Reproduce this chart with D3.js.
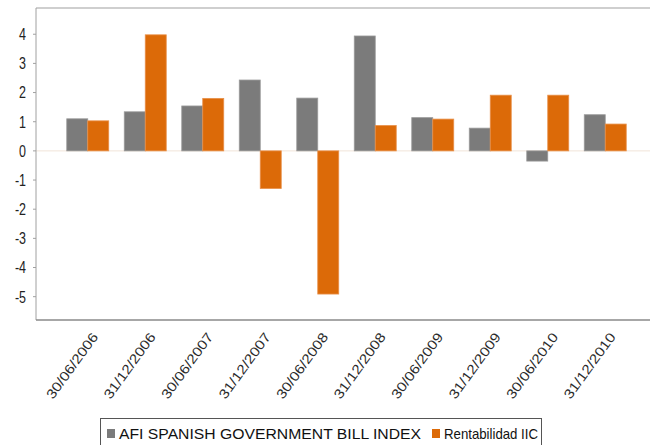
<!DOCTYPE html>
<html>
<head>
<meta charset="utf-8">
<script src="https://cdn.jsdelivr.net/npm/d3@7"></script>
<style>
  html, body { margin: 0; padding: 0; background: #fff; }
  svg { display: block; font-family: "Liberation Sans", Arial, sans-serif; }
</style>
</head>
<body>
<svg id="chart" width="650" height="445"></svg>
<script>
const categories = ["30/06/2006","31/12/2006","30/06/2007","31/12/2007","30/06/2008","31/12/2008","30/06/2009","31/12/2009","30/06/2010","31/12/2010"];
const seriesNames = ["AFI SPANISH GOVERNMENT BILL INDEX", "Rentabilidad IIC"];
const afiValues = [1.10, 1.34, 1.54, 2.43, 1.81, 3.94, 1.14, 0.78, -0.35, 1.24];
const iicValues = [1.03, 3.98, 1.80, -1.29, -4.91, 0.87, 1.09, 1.91, 1.91, 0.92];
const yTicks = [4, 3, 2, 1, 0, -1, -2, -3, -4, -5];
const colors = ["#7b7b7b", "#dc6a08"];

const svg = d3.select("#chart");
const plot = { left: 36, top: 8, right: 657, bottom: 320 };

const x = d3.scaleBand().domain(categories).range([plot.left, plot.right])
  .paddingInner(0.27).paddingOuter(0.535);
const xs = d3.scaleBand().domain([0, 1]).range([0, x.bandwidth()]);
const y = d3.scaleLinear().domain([-5.8, 4.9]).range([plot.bottom, plot.top]);

// zero line
svg.append("line").attr("x1", plot.left).attr("x2", 650)
  .attr("y1", y(0)).attr("y2", y(0)).attr("stroke", "#f1e4d8").attr("stroke-width", 1);

const data = categories.map((c, i) => ({ c, vals: [afiValues[i], iicValues[i]] }));
const g = svg.append("g").selectAll("g").data(data).join("g")
  .attr("transform", d => `translate(${x(d.c)},0)`);
g.selectAll("rect").data(d => d.vals.map((v, k) => ({ v, k }))).join("rect")
  .attr("x", d => xs(d.k))
  .attr("width", xs.bandwidth())
  .attr("y", d => Math.min(y(d.v), y(0)))
  .attr("height", d => Math.abs(y(d.v) - y(0)))
  .attr("fill", d => colors[d.k])
  .attr("stroke", d => d.k === 0 ? "#9a9a9a" : "#e8904a")
  .attr("stroke-width", 0.8);

// frame
svg.append("line").attr("x1", plot.left).attr("x2", 650).attr("y1", plot.top).attr("y2", plot.top)
  .attr("stroke", "#cfcfcf").attr("stroke-width", 2);
svg.append("line").attr("x1", plot.left).attr("x2", plot.left).attr("y1", plot.top).attr("y2", plot.bottom)
  .attr("stroke", "#a0a0a0").attr("stroke-width", 1);
svg.append("line").attr("x1", plot.left).attr("x2", 650).attr("y1", plot.bottom).attr("y2", plot.bottom)
  .attr("stroke", "#8a8a8a").attr("stroke-width", 1.5);

// y axis ticks & labels
const yAxis = svg.append("g");
yAxis.selectAll("line").data(yTicks).join("line")
  .attr("x1", plot.left - 3).attr("x2", plot.left)
  .attr("y1", d => y(d)).attr("y2", d => y(d))
  .attr("stroke", "#a0a0a0");
yAxis.selectAll("text").data(yTicks).join("text")
  .attr("transform", d => `translate(26,${y(d)}) scale(1,1.3)`)
  .attr("text-anchor", "end").attr("dy", "0.36em")
  .attr("font-size", 12.5).attr("fill", "#222")
  .text(d => d);

// x labels
svg.append("g").selectAll("text").data(categories).join("text")
  .attr("transform", d => `translate(${x(d) + x.bandwidth() / 2 + 11},337) rotate(-54)`)
  .attr("text-anchor", "end")
  .attr("font-size", 13.5).attr("fill", "#2a2a2a")
  .attr("textLength", 78).attr("lengthAdjust", "spacingAndGlyphs")
  .text(d => d);

// legend
const leg = svg.append("g");
leg.append("rect").attr("x", 100.5).attr("y", 418.5).attr("width", 441).attr("height", 40)
  .attr("fill", "#fff").attr("stroke", "#555").attr("stroke-width", 1);
const items = [{ name: seriesNames[0], x: 107, len: 302 }, { name: seriesNames[1], x: 432, len: 94 }];
items.forEach((it, k) => {
  leg.append("rect").attr("x", it.x).attr("y", 429).attr("width", 8).attr("height", 9).attr("fill", colors[k]);
  leg.append("text").attr("x", it.x + 12).attr("y", 438.5).attr("font-size", 15).attr("fill", "#111")
    .attr("textLength", it.len).attr("lengthAdjust", "spacingAndGlyphs")
    .text(it.name);
});
</script>
</body>
</html>
